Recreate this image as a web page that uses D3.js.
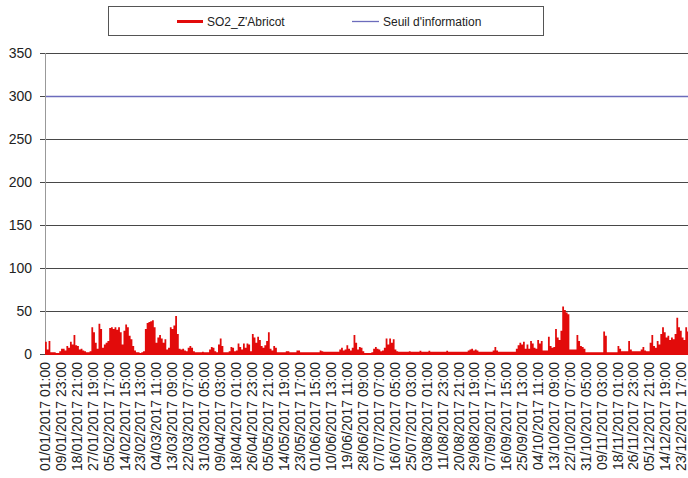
<!DOCTYPE html>
<html><head><meta charset="utf-8">
<script src="https://cdn.jsdelivr.net/npm/d3@7"></script>
<style>
html,body{margin:0;padding:0;background:#fff;}
svg{display:block;font-family:"Liberation Sans",Arial,sans-serif;}
</style></head>
<body><svg id="c" width="688" height="478"></svg>
<script>
// Daily peak values of SO2 (µg/m3), day 0 = 01/01/2017
const so2Daily = [
13,4,14,1,1,1,0,0,2,5, 5,3,8,6,13,10,21,9,8,4,
5,3,2,1,1,2,30,24,12,5, 34,28,6,10,12,14,29,30,28,30,
27,30,24,10,26,33,30,20,16,8, 3,1,1,0,1,2,28,35,36,37,
38,30,12,18,21,17,12,16,4,6, 30,28,32,43,22,5,4,5,3,2,
6,8,6,2,1,1,1,1,1.5,1, 1,1,4,7,6,2,1,10,17,8,
1,1,1,2,7,6,2,3,11,7, 4,11,6,11,10,2,22,18,12,19,
15,8,6,9,14,24,5,3,8,6, 1,1,1,1,1,2,2,1,1,1,
1,3,3,1,1,1,1,1,1,1, 1,1,1,1,3,2,1.5,1.5,1.5,1.5,
1.5,1.5,1.5,1.5,1.5,4,6,3,4,9, 5,3,6,21,12,4,7,6,2,0,
0,0,0,1,5,7,5,4,2,3, 6,17,10,17,12,16,4,2,1.5,1.5,
1.5,1.5,1.5,1.5,2,1.5,1.5,1.5,1.5,1.5, 2.5,1.5,1.5,1.5,1.5,2.5,1.5,1.5,1.5,1.5,
1.5,1.5,1.5,1.5,1.5,2.5,1.5,1.5,1.5,1.5, 1.5,1.5,1.5,1.5,1.5,1.5,1.5,3,4,5,
3,4,3,1.5,1.5,1.5,1.5,1.5,1.5,1.5, 1.5,3,7,3,1.5,1.5,1.5,1.5,1.5,1.5,
1.5,1.5,1.5,1.5,5,9,12,10,13,5, 10,5,14,11,6,5,15,11,14,3,
3,3,19,8,6,7,28,18,15,26, 54,50,47,45,4,4,4,4,21,14,
8,7,5,1,1,1,1,1,1,1, 1,1,1,25,20,1,1,1,1,1,
1,8,5,2,2,2,2,14,4,2, 2,2,2,2,4,7,3,2,2,12,
21,8,6,14,10,22,30,24,18,20, 15,18,16,22,41,30,26,18,15,30,
25,22,20,18,20
];
const seuil = 300;
const yTicks = [0,50,100,150,200,250,300,350];
const xTickLabels = [
"01/01/2017 01:00","09/01/2017 23:00","18/01/2017 21:00","27/01/2017 19:00",
"05/02/2017 17:00","14/02/2017 15:00","23/02/2017 13:00","04/03/2017 11:00",
"13/03/2017 09:00","22/03/2017 07:00","31/03/2017 05:00","09/04/2017 03:00",
"18/04/2017 01:00","26/04/2017 23:00","05/05/2017 21:00","14/05/2017 19:00",
"23/05/2017 17:00","01/06/2017 15:00","10/06/2017 13:00","19/06/2017 11:00",
"28/06/2017 09:00","07/07/2017 07:00","16/07/2017 05:00","25/07/2017 03:00",
"03/08/2017 01:00","11/08/2017 23:00","20/08/2017 21:00","29/08/2017 19:00",
"07/09/2017 17:00","16/09/2017 15:00","25/09/2017 13:00","04/10/2017 11:00",
"13/10/2017 09:00","22/10/2017 07:00","31/10/2017 05:00","09/11/2017 03:00",
"18/11/2017 01:00","26/11/2017 23:00","05/12/2017 21:00","14/12/2017 19:00",
"23/12/2017 17:00"
];
const hoursPerLabel = 214;
const totalHours = 8760;

const svg = d3.select("#c");
const W = 688, H = 478;
const plotLeft = 45, plotTop = 53, plotBottom = 354;
const x = d3.scaleLinear().domain([0, totalHours]).range([plotLeft, 696]);
const y = d3.scaleLinear().domain([0, 350]).range([plotBottom, plotTop]);
const py = v => Math.round(y(v)) + 0.5;

svg.append("rect").attr("width", W).attr("height", H).attr("fill", "#fff");

// gridlines + y ticks
const gy = svg.append("g");
gy.selectAll("line").data(yTicks.filter(v => v > 0)).join("line")
  .attr("x1", plotLeft - 5).attr("x2", W)
  .attr("y1", d => py(d)).attr("y2", d => py(d))
  .attr("stroke", "#484848").attr("stroke-width", 1);
svg.append("line").attr("x1", plotLeft - 5).attr("x2", plotLeft)
  .attr("y1", py(0)).attr("y2", py(0)).attr("stroke", "#484848");
gy.selectAll("text").data(yTicks).join("text")
  .attr("x", 32).attr("y", d => y(d)).attr("dy", "0.36em")
  .attr("text-anchor", "end").attr("font-size", "14px").attr("fill", "#222")
  .text(d => d);

// axes lines
svg.append("line").attr("x1", plotLeft + 0.5).attr("x2", plotLeft + 0.5)
  .attr("y1", plotTop).attr("y2", plotBottom).attr("stroke", "#999");
svg.append("line").attr("x1", plotLeft).attr("x2", W)
  .attr("y1", py(0)).attr("y2", py(0)).attr("stroke", "#999");

// threshold line
svg.append("line").attr("x1", plotLeft + 1).attr("x2", W)
  .attr("y1", py(seuil)).attr("y2", py(seuil))
  .attr("stroke", "#6c6cbc").attr("stroke-width", 1.3);

// SO2 series
const pts = so2Daily.map((v, i) => ({h: i * 24, v}));
pts.push({h: totalHours, v: so2Daily[so2Daily.length - 1]});
const area = d3.area().curve(d3.curveStepAfter)
  .x(d => x(d.h)).y0(y(0) + 1).y1(d => y(d.v) - 1);
svg.append("path").datum(pts).attr("d", area)
  .attr("fill", "#e20b0b").attr("stroke", "none");

// x tick labels
const gx = svg.append("g");
gx.selectAll("text").data(xTickLabels).join("text")
  .attr("transform", (d, i) => `translate(${x(i * hoursPerLabel)},362) rotate(-90)`)
  .attr("dy", "0.36em").attr("text-anchor", "end")
  .attr("font-size", "14px").attr("fill", "#222")
  .text(d => d);

// legend
const lg = svg.append("g");
lg.append("rect").attr("x", 108.5).attr("y", 6.5).attr("width", 435).attr("height", 29)
  .attr("fill", "#fff").attr("stroke", "#555");
lg.append("line").attr("x1", 177).attr("x2", 203).attr("y1", 21.5).attr("y2", 21.5)
  .attr("stroke", "#e20b0b").attr("stroke-width", 3);
lg.append("text").attr("x", 207).attr("y", 21.5).attr("dy", "0.36em")
  .attr("font-size", "12px").attr("fill", "#222").text("SO2_Z'Abricot");
lg.append("line").attr("x1", 352).attr("x2", 379).attr("y1", 21.5).attr("y2", 21.5)
  .attr("stroke", "#6c6cbc").attr("stroke-width", 1.3);
lg.append("text").attr("x", 383).attr("y", 21.5).attr("dy", "0.36em")
  .attr("font-size", "12px").attr("fill", "#222").text("Seuil d'information");
</script></body></html>
